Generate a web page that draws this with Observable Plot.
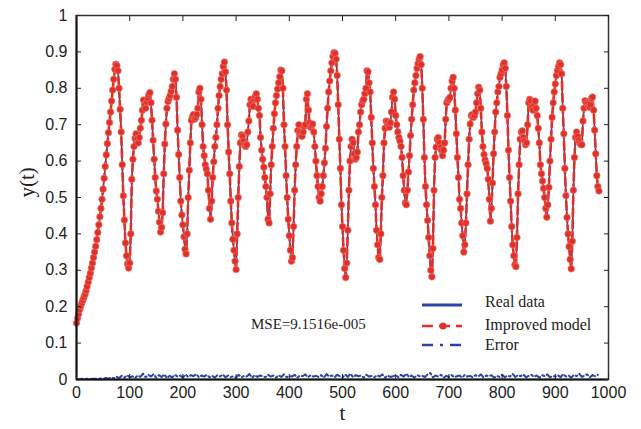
<!DOCTYPE html>
<html><head><meta charset="utf-8">
<script src="https://cdn.jsdelivr.net/npm/d3@7"></script>
<script src="https://cdn.jsdelivr.net/npm/@observablehq/plot@0.6"></script>
<style>
body{margin:0;background:#fff;}
#wrap{position:relative;width:641px;height:429px;background:#fff;}
#wrap svg{display:block;}
#overlay{position:absolute;left:0;top:0;pointer-events:none;}
</style></head><body><div id="wrap"></div>
<script>
const tStep = 2;
const realData = [
.155,.168,.180,.192,.202,.210,.218,.226,.234,.244,.256,.268,.280,.292,.306,.320,.335,.350,.366,.384,
.404,.425,.447,.470,.495,.523,.553,.585,.617,.648,.678,.706,.735,.765,.795,.825,.852,.866,.862,.848,
.800,.742,.680,.590,.505,.438,.375,.340,.318,.306,.320,.400,.550,.605,.640,.662,.675,.662,.650,.665,
.690,.712,.740,.768,.755,.745,.762,.772,.782,.788,.760,.712,.657,.605,.555,.518,.495,.462,.432,.405,
.418,.458,.565,.647,.702,.745,.764,.772,.780,.792,.805,.825,.840,.825,.775,.685,.618,.555,.490,.452,
.425,.392,.358,.345,.400,.500,.575,.650,.712,.722,.728,.715,.720,.728,.745,.790,.800,.770,.700,.640,
.615,.590,.578,.565,.520,.470,.440,.490,.555,.598,.640,.665,.700,.745,.780,.805,.825,.840,.860,.872,
.845,.795,.700,.625,.565,.490,.430,.385,.355,.325,.302,.400,.500,.585,.650,.672,.668,.655,.645,.640,
.645,.680,.710,.755,.770,.762,.750,.770,.778,.785,.770,.745,.725,.665,.630,.605,.583,.555,.530,.500,
.440,.430,.510,.590,.640,.690,.730,.760,.780,.798,.815,.832,.850,.848,.800,.700,.640,.560,.500,.440,
.395,.355,.325,.335,.420,.520,.590,.640,.684,.700,.680,.670,.668,.680,.695,.700,.770,.785,.740,.705,
.693,.698,.702,.680,.640,.600,.560,.530,.500,.490,.510,.530,.560,.595,.635,.695,.745,.790,.820,.848,
.870,.888,.898,.896,.880,.835,.755,.660,.580,.480,.420,.355,.305,.280,.320,.410,.520,.600,.640,.660,
.650,.620,.605,.610,.625,.680,.700,.735,.755,.765,.770,.785,.800,.848,.845,.815,.790,.720,.650,.580,
.530,.480,.410,.370,.335,.330,.400,.500,.560,.650,.690,.710,.708,.700,.693,.705,.735,.775,.790,.770,
.725,.700,.680,.665,.655,.640,.610,.560,.520,.485,.480,.520,.570,.615,.670,.715,.755,.795,.815,.835,
.855,.868,.880,.887,.865,.800,.715,.610,.530,.480,.437,.390,.340,.300,.282,.360,.520,.610,.638,.660,
.665,.650,.638,.630,.615,.630,.650,.715,.760,.768,.770,.775,.800,.820,.830,.800,.740,.675,.610,.555,
.495,.470,.430,.395,.350,.370,.430,.510,.590,.660,.702,.725,.728,.720,.725,.735,.760,.785,.803,.795,
.745,.680,.640,.618,.603,.593,.580,.550,.495,.435,.470,.540,.620,.680,.735,.760,.790,.805,.830,.840,
.850,.865,.870,.855,.805,.725,.630,.555,.490,.420,.370,.340,.315,.310,.390,.510,.590,.660,.680,.683,
.665,.655,.645,.650,.700,.760,.770,.765,.750,.740,.755,.765,.745,.725,.690,.650,.590,.565,.545,.525,
.500,.470,.446,.480,.528,.600,.660,.720,.760,.790,.812,.835,.849,.860,.870,.865,.840,.745,.675,.580,
.505,.445,.400,.365,.330,.304,.380,.520,.610,.665,.680,.668,.657,.650,.645,.645,.710,.745,.766,.760,
.757,.750,.748,.755,.772,.776,.740,.685,.620,.560,.530,.518
];
// The improved model follows the real data almost exactly (MSE ~ 9e-5)
const modelData = realData;
// Error series, read every 5 time units (t = 0 ... 980)
const errStep = 5;
const errorData = [
.001,.001,.002,.001,.002,.001,.002,.002,.001,.003,.002,
.004,.002,.006,.003,.008,.004,.010,.005,.012,.006,
.009,.004,.011,.007,.016,.006,.013,.008,.015,.005,
.012,.007,.014,.004,.010,.006,.013,.008,.011,.005,
.014,.007,.012,.009,.015,.006,.011,.008,.013,.006,
.010,.005,.012,.008,.014,.006,.011,.007,.009,.005,
.013,.006,.010,.008,.015,.005,.012,.007,.011,.009,
.006,.013,.008,.011,.005,.012,.007,.014,.006,.010,
.008,.013,.005,.011,.009,.014,.006,.012,.008,.010,
.007,.012,.005,.015,.008,.011,.006,.013,.009,.005,
.014,.007,.016,.006,.012,.009,.011,.005,.013,.008,
.010,.006,.012,.008,.014,.005,.011,.007,.009,.012,
.006,.013,.008,.016,.007,.011,.005,.012,.009,.010,
.007,.014,.018,.006,.011,.008,.013,.005,.010,.007,
.012,.006,.009,.011,.005,.013,.008,.010,.006,.012,
.008,.014,.006,.011,.009,.012,.005,.010,.007,.013,
.006,.011,.008,.015,.007,.012,.009,.014,.006,.010,
.013,.007,.011,.005,.012,.009,.014,.006,.010,.008,
.012,.006,.015,.008,.011,.005,.013,.009,.016,.007,
.011,.014,.006,.012,.009,.013
];
const xTicks = [0,100,200,300,400,500,600,700,800,900,1000];
const yTicks = [0,0.1,0.2,0.3,0.4,0.5,0.6,0.7,0.8,0.9,1];
const seriesNames = ["Real data","Improved model","Error"];
const mseLabel = "MSE=9.1516e-005";
const xLabel = "t";
const yLabel = "y(t)";

const BLUE = "#2b44a6", RED = "#e0302a";
const real = realData.map((v,i)=>({t:i*tStep, y:v}));
const model = modelData.map((v,i)=>({t:i*tStep, y:v}));
const err = errorData.map((v,i)=>({t:i*errStep, y:v}));

const sans = "Liberation Sans, Arial, Helvetica, sans-serif";
const serif = "Liberation Serif, Times New Roman, serif";

const chart = Plot.plot({
  width: 641, height: 429,
  marginLeft: 76, marginRight: 33, marginTop: 15, marginBottom: 50,
  style: {background: "#fff", color: "#222", fontFamily: sans},
  x: {domain: [0,1000]},
  y: {domain: [0,1]},
  marks: [
    Plot.line(real, {x:"t", y:"y", stroke: BLUE, strokeWidth: 1.6}),
    Plot.line(model, {x:"t", y:"y", stroke: RED, strokeWidth: 2.6, strokeDasharray: "8,4"}),
    Plot.dot(model, {x:"t", y:"y", r: 3.3, fill: RED, stroke: "#f07a70", strokeWidth: 0.6}),
    Plot.line(err, {x:"t", y:"y", stroke: BLUE, strokeWidth: 2, strokeDasharray: "6,3,2,3"}),
    Plot.frame({stroke: "#333", strokeWidth: 1.5}),
    Plot.ruleX([0], {stroke: "#111", strokeWidth: 2}),
    Plot.ruleY([0], {stroke: "#111", strokeWidth: 2}),
    Plot.axisX(xTicks, {anchor: "bottom", tickSize: -5, tickPadding: 12, fontSize: 16, label: null, tickFormat: d => String(d)}),
    Plot.axisX(xTicks, {anchor: "top", tickSize: -5, label: null, tickFormat: () => ""}),
    Plot.axisY(yTicks, {anchor: "left", tickSize: -5, tickPadding: 14, fontSize: 16, label: null, tickFormat: d => String(d)}),
    Plot.axisY(yTicks, {anchor: "right", tickSize: -5, label: null, tickFormat: () => ""}),
    Plot.text([yLabel], {frameAnchor: "left", dx: -49, rotate: -90, fontFamily: serif, fontSize: 21, fill: "#222"}),
    Plot.text([xLabel], {frameAnchor: "bottom", dy: 40, fontFamily: serif, fontSize: 21, fill: "#222"})
  ]
});
const wrap = document.getElementById("wrap");
wrap.appendChild(chart);

// Legend + MSE annotation overlay
const ns = "http://www.w3.org/2000/svg";
const ov = document.createElementNS(ns, "svg");
ov.setAttribute("id","overlay"); ov.setAttribute("width",641); ov.setAttribute("height",429);
function el(tag, attrs, text){ const e=document.createElementNS(ns,tag); for(const k in attrs) e.setAttribute(k,attrs[k]); if(text!=null) e.textContent=text; ov.appendChild(e); return e; }
const legY = [305, 326, 345];
const legBase = [307, 330, 350];
// swatches
el("line",{x1:422,x2:462,y1:legY[0],y2:legY[0],stroke:BLUE,"stroke-width":3});
el("line",{x1:422,x2:462,y1:legY[1],y2:legY[1],stroke:RED,"stroke-width":2.5,"stroke-dasharray":"11,6"});
el("circle",{cx:443,cy:legY[1],r:3.5,fill:RED});
el("line",{x1:422,x2:462,y1:legY[2],y2:legY[2],stroke:BLUE,"stroke-width":2.5,"stroke-dasharray":"11,7,3,7"});
seriesNames.forEach((n,i)=>el("text",{x:485,y:legBase[i],"font-family":serif,"font-size":16,fill:"#222"},n));
el("text",{x:251,y:329,"font-family":serif,"font-size":15,fill:"#222"},mseLabel);
wrap.appendChild(ov);
</script></body></html>
